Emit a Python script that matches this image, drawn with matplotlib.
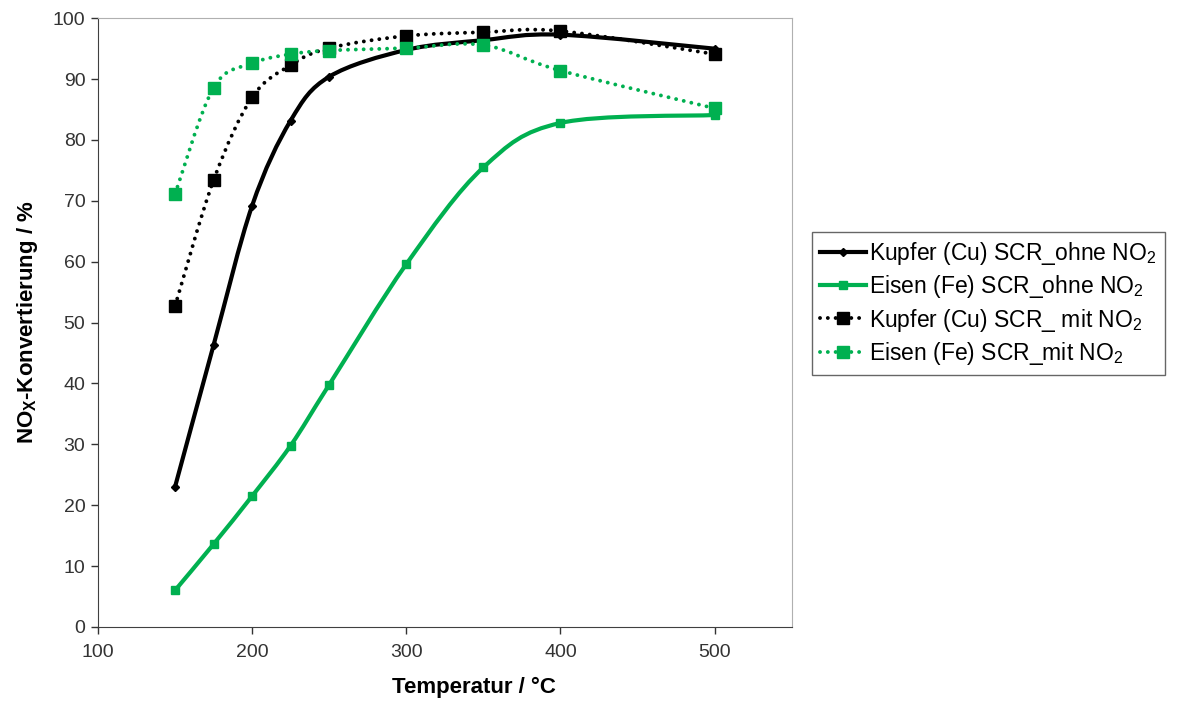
import matplotlib
matplotlib.use('Agg')
import matplotlib.pyplot as plt
from matplotlib.path import Path
from matplotlib.patches import PathPatch
from matplotlib.lines import Line2D

plt.rcParams['font.family'] = ['Liberation Sans', 'DejaVu Sans']
plt.rcParams['mathtext.fontset'] = 'custom'
plt.rcParams['mathtext.rm'] = 'Liberation Sans'
plt.rcParams['mathtext.bf'] = 'Liberation Sans:bold'

# Daten
temperatur = [150, 175, 200, 225, 250, 300, 350, 400, 500]
cu_ohne = [23.0, 46.3, 69.2, 83.2, 90.4, 94.8, 96.4, 97.3, 95.0]
fe_ohne = [6.0, 13.6, 21.5, 29.8, 39.8, 59.6, 75.5, 82.8, 84.1]
cu_mit = [52.7, 73.4, 87.0, 92.3, 95.1, 97.1, 97.7, 97.9, 94.1]
fe_mit = [71.1, 88.6, 92.6, 94.1, 94.7, 95.1, 95.6, 91.4, 85.2]

labels = ['Kupfer (Cu) SCR_ohne NO$\\mathregular{_2}$',
          'Eisen (Fe) SCR_ohne NO$\\mathregular{_2}$',
          'Kupfer (Cu) SCR_ mit NO$\\mathregular{_2}$',
          'Eisen (Fe) SCR_mit NO$\\mathregular{_2}$']

gruen = '#00B050'
punkte = (0, (0.01, 2.0))


def smooth_path(xs, ys):
    # Excel-artige geglaettete Linie als Bezier-Pfad
    verts = [(xs[0], ys[0])]
    codes = [Path.MOVETO]
    n = len(xs)
    for i in range(n - 1):
        x0, y0 = (xs[i - 1], ys[i - 1]) if i > 0 else (xs[i], ys[i])
        x1, y1 = xs[i], ys[i]
        x2, y2 = xs[i + 1], ys[i + 1]
        x3, y3 = (xs[i + 2], ys[i + 2]) if i + 2 < n else (xs[i + 1], ys[i + 1])
        c1 = (x1 + (x2 - x0) / 6, y1 + (y2 - y0) / 6)
        c2 = (x2 - (x3 - x1) / 6, y2 - (y3 - y1) / 6)
        verts += [c1, c2, (x2, y2)]
        codes += [Path.CURVE4] * 3
    return Path(verts, codes)


fig = plt.figure(figsize=(11.8, 7.02), dpi=100)
ax = fig.add_axes([0.083, 0.107, 0.588, 0.867])

stile = [
    (cu_ohne, 'black', '-', 3.0, 'D', 4.5, labels[0]),
    (fe_ohne, gruen, '-', 3.0, 's', 6, labels[1]),
    (cu_mit, 'black', punkte, 2.8, 's', 8.5, labels[2]),
    (fe_mit, gruen, punkte, 2.8, 's', 8.5, labels[3]),
]

handles = []
for werte, farbe, ls, lw, mk, ms, lab in stile:
    patch = PathPatch(smooth_path(temperatur, werte), facecolor='none', edgecolor=farbe,
                      linestyle=ls, linewidth=lw, capstyle='round')
    ax.add_patch(patch)
    ax.plot(temperatur, werte, linestyle='none', marker=mk, color=farbe, markersize=ms)
    handles.append(Line2D([], [], color=farbe, linestyle=ls, linewidth=lw,
                          marker=mk, markersize=ms, dash_capstyle='round'))

ax.set_xlim(100, 550)
ax.set_ylim(0, 100)
ax.set_xticks([100, 200, 300, 400, 500])
ax.set_yticks(range(0, 101, 10))
ax.tick_params(direction='out', length=5, width=1, labelsize=14, colors='#333333', pad=4)
ax.tick_params(axis='x', pad=7)
for s in ['top', 'right']:
    ax.spines[s].set_color('#b0b0b0')
for s in ['left', 'bottom']:
    ax.spines[s].set_color('#404040')

ax.set_xlabel('Temperatur / °C', fontsize=16, fontweight='bold', labelpad=12)
ax.xaxis.label.set_x(0.542)
ax.set_ylabel('NO$\\mathregular{_X}$-Konvertierung / %', fontsize=16, fontweight='bold', labelpad=9)

leg = fig.legend(handles, labels, loc='upper left', bbox_to_anchor=(0.688, 0.67),
                 fontsize=16.5, frameon=True, fancybox=False, edgecolor='#404040',
                 handlelength=2.0, handletextpad=0.15, borderpad=0.35, labelspacing=0.28,
                 borderaxespad=0)
leg.get_frame().set_linewidth(1.0)

fig.savefig('out.png', dpi=100)
